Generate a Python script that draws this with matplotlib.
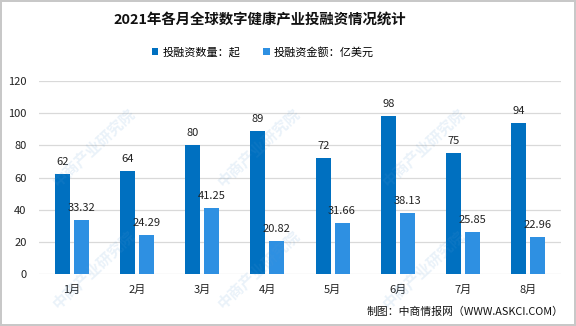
import numpy as np
import matplotlib.pyplot as plt

plt.rcParams['font.family'] = ['Noto Sans CJK SC', 'DejaVu Sans']

months = ['1月', '2月', '3月', '4月', '5月', '6月', '7月', '8月']
deal_count = [62, 64, 80, 89, 72, 98, 75, 94]
deal_amount = [33.32, 24.29, 41.25, 20.82, 31.66, 38.13, 25.85, 22.96]
count_label = '投融资数量：起'
amount_label = '投融资金额：亿美元'
yticks = [0, 20, 40, 60, 80, 100, 120]

dark_blue = '#0070C0'
light_blue = '#2E90E2'

fig = plt.figure(figsize=(5.76, 3.26), dpi=100)
fig.patch.set_edgecolor('#c8c8c8')
fig.patch.set_linewidth(1.5)

ax = fig.add_axes([39 / 576, 52 / 326, 522 / 576, 193 / 326])
ax.patch.set_alpha(0)

x = np.arange(len(months))
w = 0.23
off = 0.145
b1 = ax.bar(x - off, deal_count, w, color=dark_blue, label=count_label, zorder=3)
b2 = ax.bar(x + off, deal_amount, w, color=light_blue, label=amount_label, zorder=3)

for rect, v in zip(b1, deal_count):
    ax.annotate(f'{v}', (rect.get_x() + rect.get_width() / 2, v),
                xytext=(0, 5), textcoords='offset points',
                ha='center', va='bottom', fontsize=8, color='#222222')
for rect, v in zip(b2, deal_amount):
    ax.annotate(f'{v:.2f}', (rect.get_x() + rect.get_width() / 2, v),
                xytext=(0, 5), textcoords='offset points',
                ha='center', va='bottom', fontsize=8, color='#222222')

ax.set_xlim(-0.5, len(months) - 0.5)
ax.set_ylim(0, 120)
ax.set_yticks(yticks)
ax.set_xticks(x)
ax.set_xticklabels(months)
ax.tick_params(axis='both', length=0, labelsize=8, colors='#222222')
ax.tick_params(axis='y', pad=9)
ax.tick_params(axis='x', pad=8)
ax.grid(axis='y', color='#d9d9d9', linewidth=0.9, zorder=0)
for s in ax.spines.values():
    s.set_visible(False)

# translucent diagonal watermarks
for wx in [60, 225, 390]:
    for wy in [190, 312]:
        fig.text(wx / 576, 1 - wy / 326, '中商产业研究院', rotation=43,
                 fontsize=11, fontweight='bold', color='#5b9bd5', alpha=0.13,
                 ha='left', va='bottom', rotation_mode='anchor', zorder=5)

fig.text(260 / 576, 1 - 20 / 326, '2021年各月全球数字健康产业投融资情况统计',
         ha='center', va='center', fontsize=10.4, fontweight='bold', color='#111111')

fig.legend(handles=[b1, b2], loc='center', bbox_to_anchor=(263 / 576, 1 - 52 / 326),
           ncol=2, frameon=False, fontsize=8, handlelength=0.6, handleheight=0.6,
           handletextpad=0.4, columnspacing=2.0)

fig.text(564 / 576, 1 - 312 / 326, '制图：中商情报网（WWW.ASKCI.COM）',
         ha='right', va='center', fontsize=7.8, color='#111111')

fig.savefig('out.png', dpi=100)
